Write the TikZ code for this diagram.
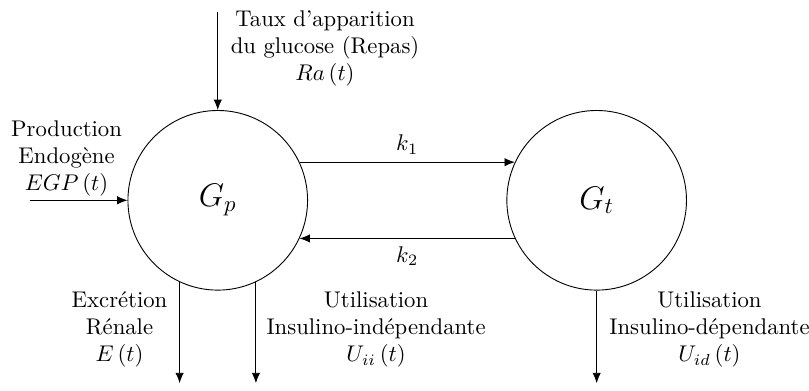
\documentclass[tikz,border=0pt]{standalone}
\usepackage{amsmath,amssymb}
\usepackage{tikz}
\usetikzlibrary{arrows.meta,positioning,calc}

\begin{document}
\begin{tikzpicture}[
    node distance=3.07cm,
    compart/.style={circle, draw, minimum size=2.78cm, inner sep=0pt,
                    font=\Large},
    etiq/.style={align=center, font=\normalsize},
    flux/.style={-{Latex[length=1.6mm, width=1.3mm]}}
]
\useasboundingbox (0,0) rectangle (12.52,6.04);

\node[compart] (gp) at (3.37,2.94) {$G_p$};
\node[compart, right=of gp] (gt) {$G_t$};

\coordinate (haut) at (3.37,5.85);
\coordinate (gauche) at (0.46,2.94);
\coordinate (bas) at (0,0.11);

\draw[flux] (haut) -- (gp);
\draw[flux] (gauche) -- (gp);
\draw[flux] (gp.25) -- node[above] {$k_1$} (gt.155);
\draw[flux] (gt.205) -- node[below] {$k_2$} (gp.335);
\draw[flux] (gp.245) -- (gp.245 |- bas);
\draw[flux] (gp.295) -- (gp.295 |- bas);
\draw[flux] (gt.south) -- (gt.south |- bas);

\node[etiq] (ra) at (5.03,5.29) {Taux d'apparition\\du glucose (Repas)\\$Ra\left(t\right)$};
\node[etiq] (egp) at (1.03,3.59) {Production\\Endogène\\$EGP\left(t\right)$};
\node[etiq] (exc) at (1.85,0.94) {Excrétion\\Rénale\\$E\left(t\right)$};
\node[etiq] (uii) at (5.82,0.94) {Utilisation\\Insulino-indépendante\\$U_{ii}\left(t\right)$};
\node[etiq] (uid) at (10.98,0.94) {Utilisation\\Insulino-dépendante\\$U_{id}\left(t\right)$};

\end{tikzpicture}
\end{document}
